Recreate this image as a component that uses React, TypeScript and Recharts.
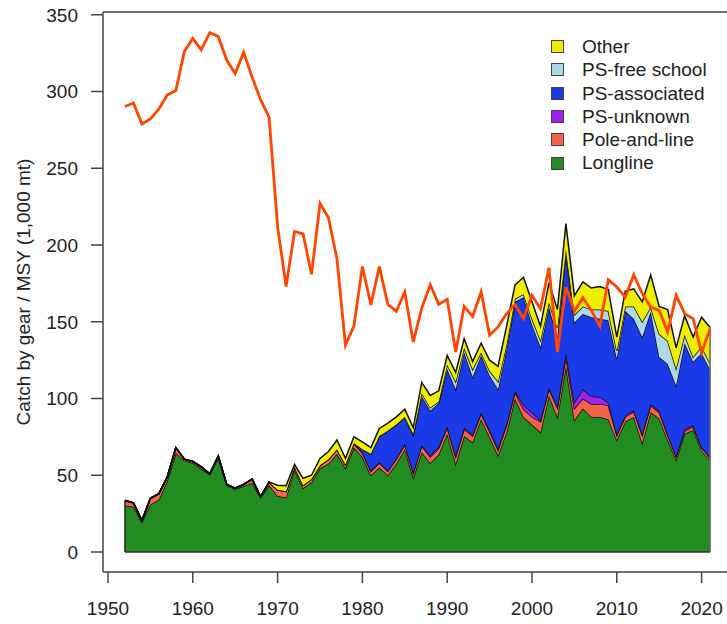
import {
  ComposedChart,
  Area,
  Line,
  XAxis,
  YAxis,
  Legend,
  ReferenceLine,
} from "recharts";

const years = Array.from({ length: 70 }, (_, i) => 1952 + i);

const longline = [
  30.5, 29.5, 19.5, 31, 34, 46.5, 64.5, 59.5, 58, 54,
  50.5, 61.5, 43.5, 41, 43, 45, 35.5, 43.5, 36.5, 35.5,
  53.5, 41.5, 45.5, 54.5, 57.5, 64, 54.5, 68, 62, 50,
  55, 50, 57.5, 67, 48.5, 65, 58, 63.5, 77, 57.5,
  75.5, 71.5, 86.5, 75, 63, 78, 100, 88, 83, 78,
  102, 88, 121, 86, 93.5, 88, 88, 86.5, 73, 85,
  88, 71, 91, 87, 73, 60, 77, 79.5, 66, 60,
];

const poleAndLine = [
  3, 2.5, 1, 4, 4, 2.5, 3.5, 1, 1, 1.5,
  0.5, 1, 0.5, 0.5, 1, 2.5, 0.5, 2, 4, 4,
  2, 2, 2, 2, 3, 3, 2.5, 2.5, 2.5, 2.5,
  3, 2.5, 3, 3, 3, 4, 4, 4, 4, 4.5,
  4.5, 4, 3.5, 3.5, 3.5, 4.5, 4, 5, 5, 7,
  4, 6, 6, 7.5, 6.5, 8.5, 8.5, 9, 3, 3,
  3.5, 5, 4.5, 4, 3, 2, 2, 2, 2, 1.5,
];

const psUnknown = [
  0, 0, 0, 0, 0, 0, 0, 0, 0, 0,
  0, 0, 0, 0, 0, 0, 0, 0, 0, 0,
  0, 0, 0, 0, 0, 0, 0, 0.5, 0.5, 0.5,
  0.5, 0.5, 0.5, 0.5, 0.5, 0.5, 1, 1, 1, 1,
  1, 1, 1, 1, 1, 1, 1, 3, 3, 1,
  1, 1, 3, 4, 6, 5, 4.5, 2, 1, 1,
  1, 1, 1, 1, 0.5, 0.5, 1, 1, 0.5, 0.3,
];

const psAssociated = [
  0, 0, 0, 0, 0, 0, 0, 0, 0, 0,
  0, 0, 0, 0, 0, 0, 0, 0, 0, 0,
  0, 0, 0, 0, 0, 0, 0, 0, 2, 11,
  17, 26, 22, 17.5, 24, 32, 29, 28.5, 37, 43,
  49, 37.5, 37, 35.5, 38.5, 48.5, 58, 70, 57, 47.5,
  52.5, 45, 65, 52, 49, 51.5, 51, 53.5, 49, 68,
  59.5, 63, 60, 35, 46, 46, 56, 41.5, 61, 57,
];

const psFreeSchool = [
  0, 0, 0, 0, 0, 0, 0, 0, 0, 0,
  0, 0, 0, 0, 0, 0, 0, 0, 0, 0,
  0, 0, 0, 0, 0, 0, 0, 0, 0, 0,
  0, 0, 0, 0, 1, 2, 2, 1, 3, 5,
  3, 5, 2, 3, 5, 3, 2, 2, 4, 4.5,
  3, 6, 2, 5, 5, 5, 6, 6, 5, 3,
  8, 10, 3, 15, 15, 11, 5.5, 3, 4.5, 4,
];

const other = [
  0, 0, 0, 0, 0, 0, 0, 0, 0, 0,
  0, 0, 0, 0, 0, 0, 0, 0, 3, 3.7,
  1.5, 4.5, 2.5, 4.5, 5, 6, 4, 4, 4.8, 4,
  5, 5, 5, 5, 4, 7, 8, 7, 6, 6,
  6, 5, 6, 7, 10, 12, 9, 11, 11, 9,
  13, 12, 17, 12.5, 16, 14, 15, 14, 9, 10,
  11.5, 13, 21, 18, 20.5, 13.5, 12.5, 13, 19, 23.5,
];

const msy = [
  290.2, 292.5, 278.9, 282.1, 288.6, 297.8, 300.6, 326.1, 334.6, 327.2,
  338.3, 335.9, 320.5, 311.8, 325.5, 309.2, 294.7, 283.2, 212, 173,
  208.8, 207.3, 180.9, 227, 217.7, 191, 134.7, 147.2, 186, 161,
  186, 161.3, 156.8, 169.4, 136.8, 158.9, 174.1, 161.3, 164.6, 130.3,
  160, 153.5, 169.4, 141.2, 146.6, 155.3, 161.2, 152, 167.2, 158.5,
  185.2, 130.3, 172.6, 157, 165.7, 157.4, 147.2, 177.4, 172.6, 166.1,
  180.7, 168.3, 159.6, 157.4, 143.3, 167.2, 155.3, 152, 129.7, 145.5,
];

const xTicks = [1950, 1960, 1970, 1980, 1990, 2000, 2010, 2020];
const yTicks = [0, 50, 100, 150, 200, 250, 300, 350];

const series = [
  { key: "longline", name: "Longline", color: "#228b22" },
  { key: "poleAndLine", name: "Pole-and-line", color: "#f4644a" },
  { key: "psUnknown", name: "PS-unknown", color: "#a020f0" },
  { key: "psAssociated", name: "PS-associated", color: "#1a3ae8" },
  { key: "psFreeSchool", name: "PS-free school", color: "#add8e6" },
  { key: "other", name: "Other", color: "#eeee00" },
];

const rows = years.map((year, i) => ({
  year,
  longline: longline[i],
  poleAndLine: poleAndLine[i],
  psUnknown: psUnknown[i],
  psAssociated: psAssociated[i],
  psFreeSchool: psFreeSchool[i],
  other: other[i],
  msy: msy[i],
}));

const totalAt = (i: number) =>
  longline[i] + poleAndLine[i] + psUnknown[i] + psAssociated[i] + psFreeSchool[i] + other[i];

const X_DOMAIN: [number, number] = [1949.41, 2024.53];
const Y_DOMAIN: [number, number] = [-13.03, 351.8];
const axisColor = "#444";
const textColor = "#222";

function LegendBox() {
  const items = [...series].reverse();
  return (
    <div>
      {items.map((s) => (
        <div key={s.key} style={{ display: "flex", alignItems: "center", height: 23.3 }}>
          <span
            style={{
              width: 13,
              height: 13,
              boxSizing: "border-box",
              background: s.color,
              border: "1.5px solid #444",
              marginRight: 18,
            }}
          />
          <span style={{ fontSize: 19, color: textColor, lineHeight: "23.3px" }}>{s.name}</span>
        </div>
      ))}
    </div>
  );
}

export default function App() {
  const first = 0;
  const last = years.length - 1;
  return (
    <div
      style={{
        position: "absolute",
        left: 0,
        top: 0,
        width: 727,
        height: 624,
        overflow: "hidden",
        background: "#fff",
        fontFamily: '"Liberation Sans", Arial, sans-serif',
      }}
    >
      <ComposedChart width={740} height={624} data={rows} margin={{ top: 12, right: 0, bottom: 0, left: 0 }}>
        <XAxis
          type="number"
          dataKey="year"
          domain={X_DOMAIN}
          allowDataOverflow
          ticks={xTicks}
          height={52}
          tick={{ fontSize: 19, fill: textColor }}
          axisLine={{ stroke: axisColor, strokeWidth: 1.5 }}
          tickLine={{ stroke: axisColor, strokeWidth: 1.5 }}
          tickSize={11}
          tickMargin={19}
        />
        <YAxis
          type="number"
          domain={Y_DOMAIN}
          allowDataOverflow
          ticks={yTicks}
          width={103}
          tick={{ fontSize: 19, fill: textColor }}
          axisLine={{ stroke: axisColor, strokeWidth: 1.5 }}
          tickLine={{ stroke: axisColor, strokeWidth: 1.5 }}
          tickSize={12}
          tickMargin={13}
          label={{
            content: (props: any) => {
              const vb = props.viewBox || { x: 0, y: 12, width: 103, height: 560 };
              const cx = vb.x + 23;
              const cy = vb.y + vb.height / 2;
              return (
                <text
                  x={cx}
                  y={cy}
                  transform={`rotate(-90 ${cx} ${cy})`}
                  textAnchor="middle"
                  dominantBaseline="central"
                  fontSize={19}
                  fill={textColor}
                >
                  Catch by gear / MSY (1,000 mt)
                </text>
              );
            },
          }}
        />
        <ReferenceLine y={Y_DOMAIN[1]} stroke={axisColor} strokeWidth={1.5} />
        {series.map((s) => (
          <Area
            key={s.key}
            type="linear"
            dataKey={s.key}
            name={s.name}
            stackId="catch"
            fill={s.color}
            fillOpacity={1}
            stroke="#111"
            strokeWidth={1.5}
            isAnimationActive={false}
          />
        ))}
        <ReferenceLine
          segment={[{ x: years[first], y: 0 }, { x: years[last], y: 0 }]}
          stroke="#333"
          strokeWidth={1.5}
        />
        <ReferenceLine
          segment={[{ x: years[first], y: 0 }, { x: years[first], y: totalAt(first) }]}
          stroke="#222"
          strokeWidth={1.5}
        />
        <ReferenceLine
          segment={[{ x: years[last], y: 0 }, { x: years[last], y: totalAt(last) }]}
          stroke="#666"
          strokeWidth={1.5}
        />
        <Line
          type="linear"
          dataKey="msy"
          stroke="#ff4500"
          strokeWidth={2.8}
          dot={false}
          activeDot={false}
          isAnimationActive={false}
        />
        <Legend
          layout="vertical"
          align="center"
          verticalAlign="middle"
          wrapperStyle={{ left: 551, top: 35, width: 175 }}
          content={() => <LegendBox />}
        />
      </ComposedChart>
    </div>
  );
}
